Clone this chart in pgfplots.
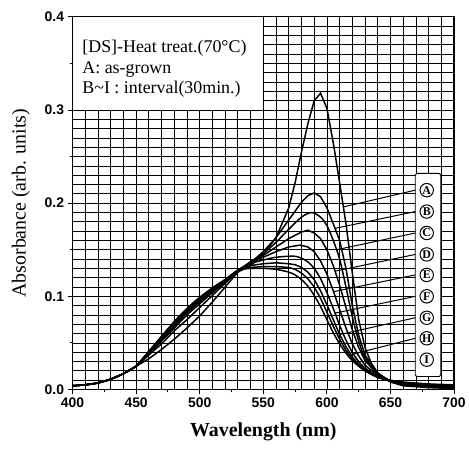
\documentclass[border=0pt]{standalone}
\usepackage{fontspec}
\setmainfont{Liberation Serif}
\setsansfont{Liberation Sans}
\usepackage{pgfplots}
\pgfplotsset{compat=1.18}

\begin{document}
\begin{tikzpicture}
\begin{axis}[
  scale only axis,
  width=384pt, height=375pt,
  xmin=400, xmax=700, ymin=0, ymax=0.4,
  xtick={400,450,...,700},
  ytick={0,0.1,0.2,0.3,0.4},
  minor xtick={400,410,...,700},
  minor ytick={0,0.01,...,0.4},
  grid=both,
  grid style={black, line width=0.8pt},
  minor grid style={black, line width=0.8pt},
  minor tick length=0pt,
  major tick length=5pt,
  tick align=outside,
  tick pos=left,
  tick style={black, line width=1pt},
  extra x ticks={425,475,525,575,625,675},
  extra x tick labels={},
  extra y ticks={0.05,0.15,0.25,0.35},
  extra y tick labels={},
  extra tick style={major tick length=3pt, grid=none},
  axis line style={line width=1.2pt},
  /pgf/number format/assume math mode=true,
  ticklabel style={font=\sffamily\bfseries\fontsize{14}{14}\selectfont},
  xticklabel style={/pgf/number format/1000 sep={}},
  yticklabel style={/pgf/number format/.cd, fixed, fixed zerofill, precision=1},
  label style={font=\fontsize{20}{22}\selectfont},
  xlabel={\bfseries Wavelength (nm)},
  ylabel={Absorbance (arb. units)},
  cycle list={{black, no markers, smooth}},
  every axis plot/.append style={line width=1.5pt},
]
\draw[fill=white, draw=none] (axis cs:400,0.3) rectangle (axis cs:550,0.4);

% A
\addplot coordinates {(400,0.004)(410,0.005)(420,0.007)(430,0.011)(440,0.017)(450,0.025)(460,0.033)(470,0.043)(480,0.054)(490,0.066)(500,0.079)(510,0.094)(520,0.110)(530,0.126)(540,0.133)(550,0.145)(560,0.163)(570,0.195)(575,0.222)(580,0.255)(585,0.285)(590,0.310)(595,0.318)(600,0.302)(605,0.265)(610,0.222)(615,0.178)(620,0.125)(625,0.075)(630,0.045)(635,0.028)(640,0.018)(650,0.008)(660,0.004)(670,0.003)(680,0.002)(700,0.001)};
% B
\addplot coordinates {(400,0.004)(410,0.005)(420,0.007)(430,0.011)(440,0.017)(450,0.025)(460,0.037)(470,0.049)(480,0.063)(490,0.075)(500,0.088)(510,0.101)(520,0.114)(530,0.127)(540,0.136)(550,0.148)(560,0.163)(570,0.182)(580,0.201)(585,0.208)(590,0.211)(595,0.207)(600,0.195)(605,0.178)(610,0.160)(615,0.130)(620,0.090)(625,0.058)(630,0.037)(640,0.017)(650,0.009)(660,0.005)(680,0.003)(700,0.002)};
% C
\addplot coordinates {(400,0.004)(410,0.005)(420,0.007)(430,0.011)(440,0.017)(450,0.025)(460,0.038)(470,0.052)(480,0.066)(490,0.080)(500,0.092)(510,0.104)(520,0.115)(530,0.127)(540,0.137)(550,0.146)(560,0.158)(570,0.172)(580,0.185)(588,0.190)(595,0.185)(600,0.176)(605,0.160)(610,0.140)(615,0.110)(620,0.078)(625,0.052)(630,0.034)(640,0.017)(650,0.009)(660,0.006)(680,0.003)(700,0.002)};
% D
\addplot coordinates {(400,0.004)(410,0.005)(420,0.007)(430,0.011)(440,0.017)(450,0.025)(460,0.039)(470,0.054)(480,0.068)(490,0.082)(500,0.094)(510,0.105)(520,0.116)(530,0.128)(540,0.137)(550,0.144)(560,0.153)(570,0.162)(580,0.169)(585,0.171)(590,0.168)(595,0.162)(600,0.150)(605,0.133)(610,0.112)(615,0.088)(620,0.064)(625,0.045)(630,0.031)(640,0.016)(650,0.009)(660,0.006)(680,0.004)(700,0.003)};
% E
\addplot coordinates {(400,0.004)(410,0.005)(420,0.007)(430,0.011)(440,0.017)(450,0.025)(460,0.040)(470,0.054)(480,0.070)(490,0.083)(500,0.095)(510,0.106)(520,0.117)(530,0.128)(540,0.136)(550,0.142)(560,0.148)(570,0.153)(579,0.155)(585,0.153)(590,0.148)(595,0.138)(600,0.124)(605,0.106)(610,0.086)(615,0.066)(620,0.049)(625,0.036)(630,0.026)(640,0.015)(650,0.009)(660,0.006)(680,0.004)(700,0.003)};
% F
\addplot coordinates {(400,0.004)(410,0.005)(420,0.007)(430,0.011)(440,0.017)(450,0.025)(460,0.040)(470,0.055)(480,0.071)(490,0.084)(500,0.097)(510,0.107)(520,0.117)(530,0.128)(540,0.135)(550,0.139)(560,0.142)(570,0.143)(575,0.143)(580,0.141)(585,0.137)(590,0.130)(595,0.119)(600,0.104)(605,0.087)(610,0.069)(615,0.053)(620,0.040)(625,0.030)(630,0.023)(640,0.014)(650,0.009)(660,0.007)(680,0.005)(700,0.004)};
% G
\addplot coordinates {(400,0.004)(410,0.005)(420,0.007)(430,0.011)(440,0.017)(450,0.025)(460,0.040)(470,0.056)(480,0.072)(490,0.086)(500,0.098)(510,0.108)(520,0.117)(530,0.128)(540,0.133)(550,0.135)(560,0.136)(570,0.135)(575,0.134)(580,0.131)(585,0.126)(590,0.118)(595,0.106)(600,0.091)(605,0.075)(610,0.059)(615,0.046)(620,0.035)(625,0.027)(630,0.021)(640,0.013)(650,0.009)(660,0.007)(680,0.005)(700,0.004)};
% H
\addplot coordinates {(400,0.004)(410,0.005)(420,0.007)(430,0.011)(440,0.017)(450,0.025)(460,0.041)(470,0.057)(480,0.072)(490,0.086)(500,0.098)(510,0.109)(520,0.118)(530,0.128)(540,0.131)(550,0.132)(560,0.132)(570,0.131)(575,0.129)(580,0.125)(585,0.119)(590,0.110)(595,0.098)(600,0.083)(605,0.068)(610,0.054)(615,0.042)(620,0.033)(625,0.026)(630,0.020)(640,0.013)(650,0.009)(660,0.007)(680,0.005)(700,0.004)};
% I
\addplot coordinates {(400,0.004)(410,0.005)(420,0.007)(430,0.011)(440,0.017)(450,0.025)(460,0.041)(470,0.057)(480,0.073)(490,0.087)(500,0.099)(510,0.109)(520,0.118)(530,0.128)(540,0.130)(550,0.130)(560,0.129)(570,0.126)(575,0.123)(580,0.118)(585,0.111)(590,0.101)(595,0.089)(600,0.075)(605,0.061)(610,0.049)(615,0.039)(620,0.031)(625,0.025)(630,0.020)(640,0.013)(650,0.010)(660,0.008)(680,0.006)(700,0.005)};

% leader lines
\draw[line width=1pt] (axis cs:613,0.196) -- (axis cs:669.5,0.214);
\draw[line width=1pt] (axis cs:606.5,0.173) -- (axis cs:669.5,0.191);
\draw[line width=1pt] (axis cs:607.5,0.150) -- (axis cs:669.5,0.168);
\draw[line width=1pt] (axis cs:606.4,0.127) -- (axis cs:669.5,0.145);
\draw[line width=1pt] (axis cs:605.3,0.105) -- (axis cs:669.5,0.123);
\draw[line width=1pt] (axis cs:606.4,0.082) -- (axis cs:669.5,0.100);
\draw[line width=1pt] (axis cs:610,0.059) -- (axis cs:669.5,0.077);
\draw[line width=1pt] (axis cs:617.8,0.037) -- (axis cs:669.5,0.055);

\draw[fill=white, line width=0.9pt, rounded corners=1.5pt] (axis cs:669.5,0.014) rectangle (axis cs:689.5,0.232);
\foreach \y/\l in {0.214/A,0.191/B,0.168/C,0.145/D,0.123/E,0.100/F,0.077/G,0.055/H,0.032/I}{
  \edef\tmp{\noexpand\node[circle, draw, line width=1pt, inner sep=0pt, minimum size=13.5pt,
    font=\noexpand\bfseries\noexpand\fontsize{12}{12}\noexpand\selectfont] at (axis cs:678.5,\y) {\l};}\tmp
}

\node[anchor=west, font=\fontsize{18}{18}\selectfont] at (axis cs:405,0.366) {\relax[DS]-Heat treat.(70°C)};
\node[anchor=west, font=\fontsize{18}{18}\selectfont] at (axis cs:405,0.343) {A: as-grown};
\node[anchor=west, font=\fontsize{18}{18}\selectfont] at (axis cs:405,0.322) {B\textasciitilde I : interval(30min.)};

\draw[line width=1.2pt] (rel axis cs:0,0) rectangle (rel axis cs:1,1);
\coordinate (bl) at (rel axis cs:0,0);
\coordinate (tr) at (rel axis cs:1,1);
\end{axis}
\path (bl) ++(-73pt,-60pt) (tr) ++(12pt,17pt);
\end{tikzpicture}
\end{document}
